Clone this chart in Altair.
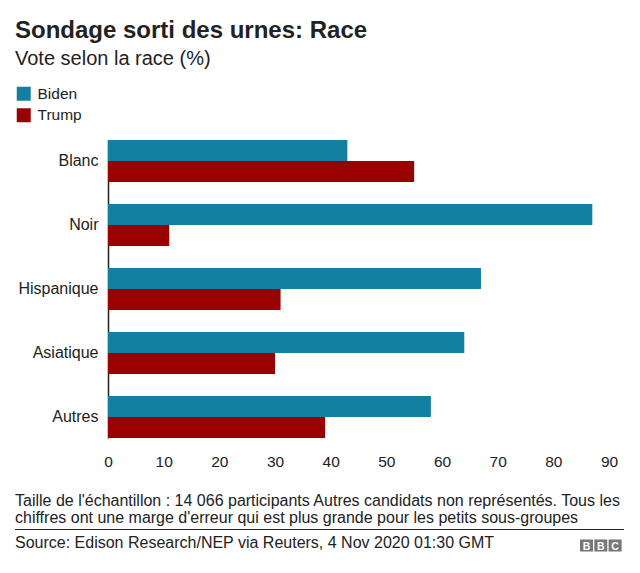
import altair as alt
import pandas as pd

# Exit poll: vote share by race (%)
races = ["Blanc", "Noir", "Hispanique", "Asiatique", "Autres"]
biden = [43, 87, 67, 64, 58]
trump = [55, 11, 31, 30, 39]
candidates = ["Biden", "Trump"]
colors = ["#1380A1", "#990000"]
x_ticks = [0, 10, 20, 30, 40, 50, 60, 70, 80, 90]

title_text = "Sondage sorti des urnes: Race"
subtitle_text = "Vote selon la race (%)"
note_lines = [
    "Taille de l'échantillon : 14 066 participants Autres candidats non représentés. Tous les",
    "chiffres ont une marge d'erreur qui est plus grande pour les petits sous-groupes",
]
source_text = "Source: Edison Research/NEP via Reuters, 4 Nov 2020 01:30 GMT"
logo_letters = ["B", "B", "C"]

FONT = "Liberation Sans"
INK = "#222222"

rows = []
for r, b, t in zip(races, biden, trump):
    rows.append({"race": r, "candidat": "Biden", "pct": b})
    rows.append({"race": r, "candidat": "Trump", "pct": t})
df = pd.DataFrame(rows)

W, H = 501, 298
LEFT, TOP = 108, 140

bars = alt.Chart(df).mark_bar().encode(
    y=alt.Y(
        "race:N",
        sort=races,
        scale=alt.Scale(paddingInner=0.344, paddingOuter=0),
        axis=alt.Axis(
            title=None, ticks=False, domainColor=INK, domainWidth=1.5,
            labelFont=FONT, labelFontSize=16, labelColor=INK, labelPadding=10,
        ),
    ),
    yOffset=alt.YOffset("candidat:N", sort=candidates,
                        scale=alt.Scale(paddingInner=0, paddingOuter=0)),
    x=alt.X(
        "pct:Q",
        scale=alt.Scale(domain=[0, 90], nice=False),
        axis=alt.Axis(
            values=x_ticks, title=None, domain=False, ticks=False, grid=False,
            labelFont=FONT, labelFontSize=15.5, labelColor=INK, labelPadding=16,
            labelFlush=False, format="d",
        ),
    ),
    color=alt.Color(
        "candidat:N",
        sort=candidates,
        scale=alt.Scale(domain=candidates, range=colors),
        legend=alt.Legend(
            title=None, orient="none", legendX=16 - LEFT, legendY=86 - TOP,
            symbolType="square", symbolSize=196, symbolStrokeWidth=0,
            symbolOpacity=1, labelFont=FONT, labelFontSize=15.5,
            labelColor=INK, rowPadding=4.5, labelOffset=6,
        ),
    ),
)

def text_layer(txt, x, y, size, weight="normal", color=INK, align="left"):
    return alt.Chart(pd.DataFrame({"t": [txt]})).mark_text(
        align=align, baseline="alphabetic", font=FONT, fontSize=size,
        fontWeight=weight, color=color,
    ).encode(text="t:N", x=alt.value(x), y=alt.value(y))

layers = [bars]
layers.append(text_layer(title_text, 15 - LEFT, 38 - TOP, 24, "bold"))
layers.append(text_layer(subtitle_text, 15 - LEFT, 65 - TOP, 20))
layers.append(text_layer(note_lines[0], 15 - LEFT, 506 - TOP, 16))
layers.append(text_layer(note_lines[1], 15 - LEFT, 523 - TOP, 16))
layers.append(text_layer(source_text, 15 - LEFT, 548 - TOP, 16))

# separator line above the source
layers.append(
    alt.Chart(pd.DataFrame({"v": [0]})).mark_rule(color=INK, strokeWidth=1.2).encode(
        x=alt.value(15 - LEFT), x2=alt.value(624 - LEFT), y=alt.value(529.5 - TOP)
    )
)

# BBC block logo
for i, letter in enumerate(logo_letters):
    x0 = 580 + i * 14.3 - LEFT
    layers.append(
        alt.Chart(pd.DataFrame({"v": [0]})).mark_rect(color="#777777").encode(
            x=alt.value(x0), x2=alt.value(x0 + 13),
            y=alt.value(539.5 - TOP), y2=alt.value(551.5 - TOP),
        )
    )
    layers.append(text_layer(letter, x0 + 6.5, 549.5 - TOP, 10.5, "bold", "#ffffff", align="center"))

chart = alt.layer(*layers).properties(
    width=W, height=H,
    autosize=alt.AutoSizeParams(type="none"),
    padding={"left": LEFT, "top": TOP, "right": 640 - LEFT - W, "bottom": 573 - TOP - H},
    background="white",
).configure_view(stroke=None)

chart.save("out.html", embed_options={"renderer": "svg", "actions": False})
